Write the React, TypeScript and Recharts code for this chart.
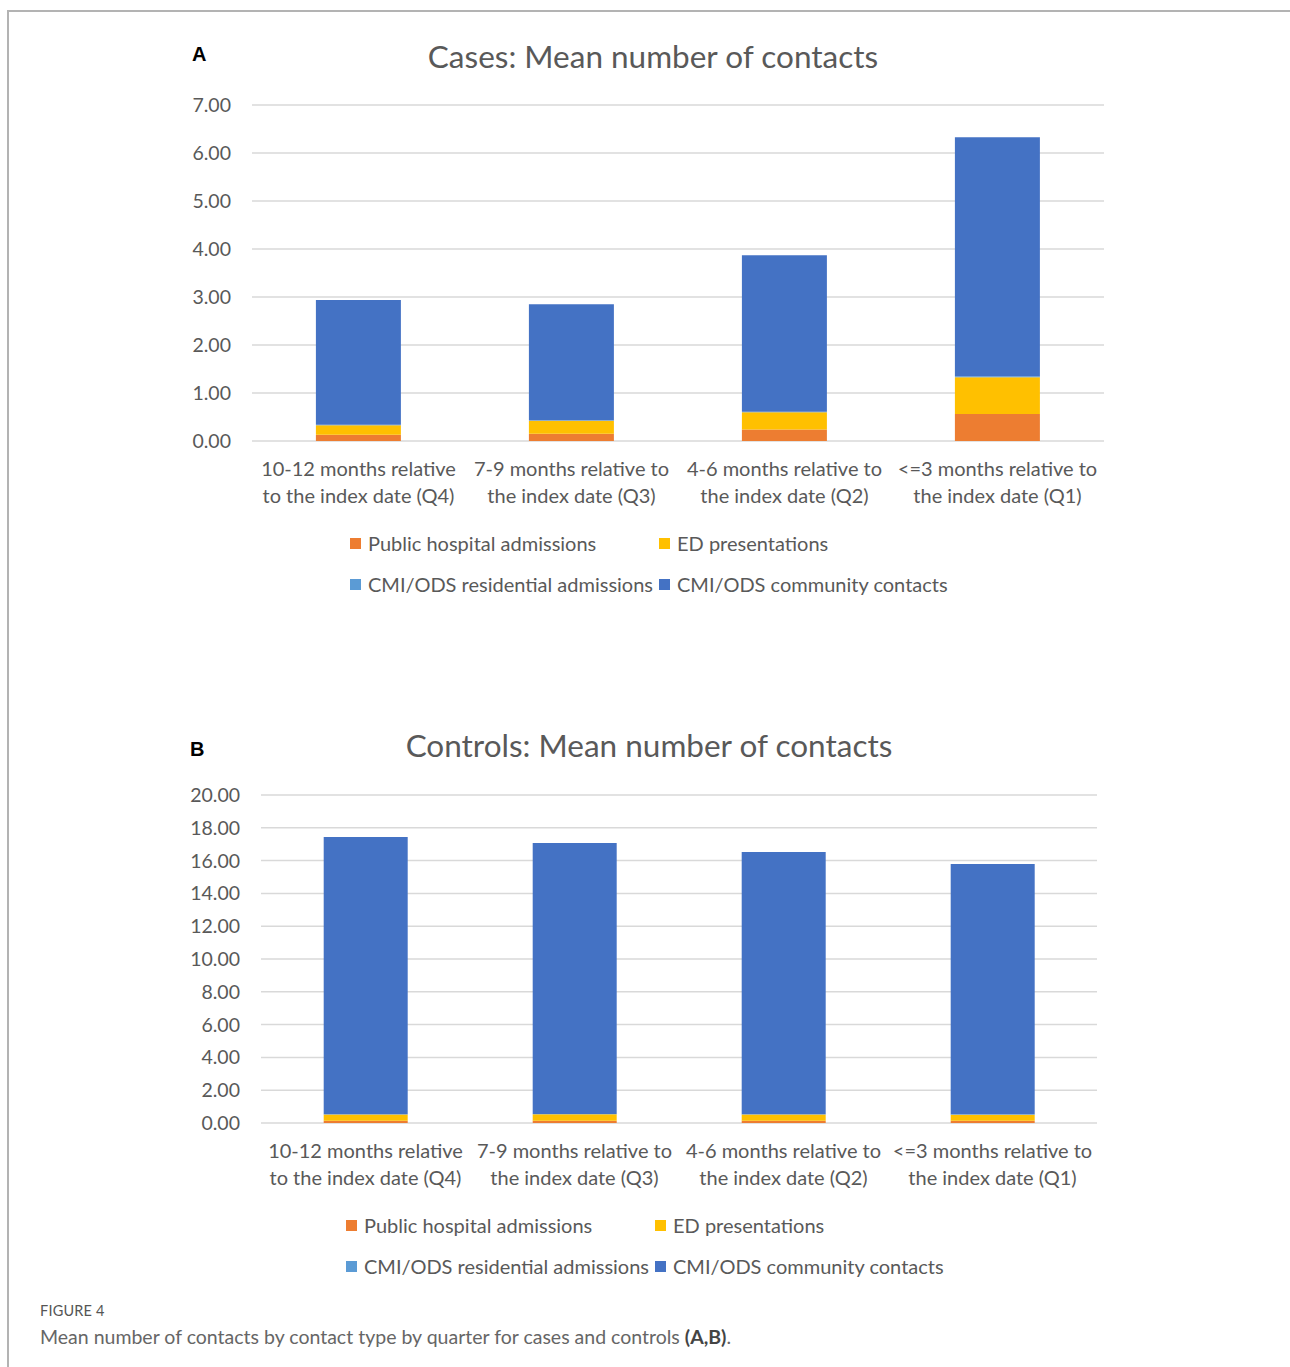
import React from 'react';
import { BarChart, Bar, XAxis, YAxis, CartesianGrid, Legend } from 'recharts';

const quarters = [
  '10-12 months relative|to the index date (Q4)',
  '7-9 months relative to|the index date (Q3)',
  '4-6 months relative to|the index date (Q2)',
  '<=3 months relative to|the index date (Q1)',
];

const seriesNames = [
  'Public hospital admissions',
  'ED presentations',
  'CMI/ODS residential admissions',
  'CMI/ODS community contacts',
];
const seriesColors = ['#ED7D31', '#FFC000', '#5B9BD5', '#4472C4'];

// cases (A)
const casesPublic = [0.13, 0.15, 0.24, 0.56];
const casesED = [0.2, 0.27, 0.36, 0.77];
const casesResidential = [0.01, 0.01, 0.01, 0.02];
const casesCommunity = [2.6, 2.42, 3.26, 4.98];
const casesTicks = [0, 1, 2, 3, 4, 5, 6, 7];

// controls (B)
const controlsPublic = [0.14, 0.14, 0.14, 0.14];
const controlsED = [0.38, 0.39, 0.38, 0.37];
const controlsResidential = [0.02, 0.02, 0.02, 0.02];
const controlsCommunity = [16.9, 16.52, 15.98, 15.26];
const controlsTicks = [0, 2, 4, 6, 8, 10, 12, 14, 16, 18, 20];

const FONT = 'Lato, "Open Sans", sans-serif';
const GRAY = '#595959';

const buildRows = (vals: number[][]) =>
  quarters.map((q, i) => {
    const row: any = { quarter: q };
    seriesNames.forEach((s, j) => {
      row[s] = vals[j][i];
    });
    return row;
  });

const casesData = buildRows([casesPublic, casesED, casesResidential, casesCommunity]);
const controlsData = buildRows([controlsPublic, controlsED, controlsResidential, controlsCommunity]);

const QuarterTick = (props: any) => {
  const { x, y, payload } = props;
  const lines = String(payload.value).split('|');
  return (
    <text x={x} y={y} textAnchor="middle" fill={GRAY} fontSize={20} fontFamily={FONT}>
      {lines.map((l, i) => (
        <tspan key={i} x={x} dy={27}>
          {l}
        </tspan>
      ))}
    </text>
  );
};

const LegendGrid = (props: any) => {
  const items = [...(props.payload || [])].sort(
    (a: any, b: any) => seriesNames.indexOf(a.value) - seriesNames.indexOf(b.value)
  );
  return (
    <div style={{ display: 'grid', gridTemplateColumns: '309px 309px', rowGap: 17, fontFamily: FONT }}>
      {items.map((p: any) => (
        <div key={p.value} style={{ display: 'flex', alignItems: 'center', fontSize: 20, color: GRAY, whiteSpace: 'nowrap', height: 24 }}>
          <span style={{ display: 'inline-block', width: 11, height: 11, background: p.color, marginRight: 7 }} />
          {p.value}
        </div>
      ))}
    </div>
  );
};

type PanelProps = {
  data: any[];
  ticks: number[];
  top: number;
  plotLeft: number;
  plotRight: number;
  plotBottom: number;
  legendLeft: number;
  legendTop: number;
};

const Panel = ({ data, ticks, top, plotLeft, plotRight, plotBottom, legendLeft, legendTop }: PanelProps) => (
  <div style={{ position: 'absolute', top, left: 0 }}>
    <BarChart
      width={1290}
      height={640}
      data={data}
      barCategoryGap="30%"
      margin={{ top: 105, right: 1290 - plotRight, left: plotLeft - 80, bottom: 640 - (plotBottom - top) - 70 }}
    >
      <CartesianGrid vertical={false} stroke="#d9d9d9" strokeWidth={1.5} />
      <XAxis
        dataKey="quarter"
        height={70}
        axisLine={false}
        tickLine={false}
        interval={0}
        tick={<QuarterTick />}
      />
      <YAxis
        width={80}
        domain={[ticks[0], ticks[ticks.length - 1]]}
        ticks={ticks}
        axisLine={false}
        tickLine={false}
        tickSize={0}
        tickMargin={21}
        tickFormatter={(v: number) => v.toFixed(2)}
        tick={{ fill: GRAY, fontSize: 19.5, fontFamily: FONT }}
      />
      <Legend
        layout="horizontal"
        verticalAlign="middle"
        align="center"
        content={<LegendGrid />}
        wrapperStyle={{ top: legendTop, left: legendLeft, width: 640 }}
      />
      {seriesNames.map((s, j) => (
        <Bar key={s} dataKey={s} stackId="a" fill={seriesColors[j]} isAnimationActive={false} />
      ))}
    </BarChart>
  </div>
);

const Title = ({ text, x, y, letter, letterX, letterY }: { text: string; x: number; y: number; letter: string; letterX: number; letterY: number }) => (
  <>
    <div style={{ position: 'absolute', top: letterY - 11, left: letterX, fontFamily: 'Arial, sans-serif', fontWeight: 700, fontSize: 20, color: '#000' }}>
      {letter}
    </div>
    <div
      style={{
        position: 'absolute',
        top: y - 21,
        left: x - 400,
        width: 800,
        textAlign: 'center',
        fontFamily: FONT,
        fontSize: 31.5,
        color: GRAY,
        lineHeight: '40px',
      }}
    >
      {text}
    </div>
  </>
);

export default function App() {
  return (
    <div style={{ position: 'absolute', top: 0, left: 0, width: 1290, height: 1367, background: '#fff', overflow: 'hidden' }}>
      <div style={{ position: 'absolute', top: 10, left: 7, width: 1290, height: 1367, borderTop: '2px solid #b3b3b3', borderLeft: '2px solid #b3b3b3' }} />
      <Title text="Cases: Mean number of contacts" x={653} y={57} letter="A" letterX={192} letterY={54} />
      <Panel data={casesData} ticks={casesTicks} top={0} plotLeft={252} plotRight={1104} plotBottom={441} legendLeft={350} legendTop={531} />
      <Title text="Controls: Mean number of contacts" x={649} y={746} letter="B" letterX={190} letterY={749} />
      <Panel data={controlsData} ticks={controlsTicks} top={690} plotLeft={261} plotRight={1097} plotBottom={1123} legendLeft={346} legendTop={523} />
      <div style={{ position: 'absolute', top: 1302, left: 40, fontFamily: FONT, fontSize: 14.5, color: '#555', letterSpacing: 0.2 }}>
        FIGURE 4
      </div>
      <div style={{ position: 'absolute', top: 1325, left: 40, fontFamily: FONT, fontSize: 19.5, color: '#666' }}>
        Mean number of contacts by contact type by quarter for cases and controls <b style={{ color: '#444' }}>(A,B)</b>.
      </div>
    </div>
  );
}
